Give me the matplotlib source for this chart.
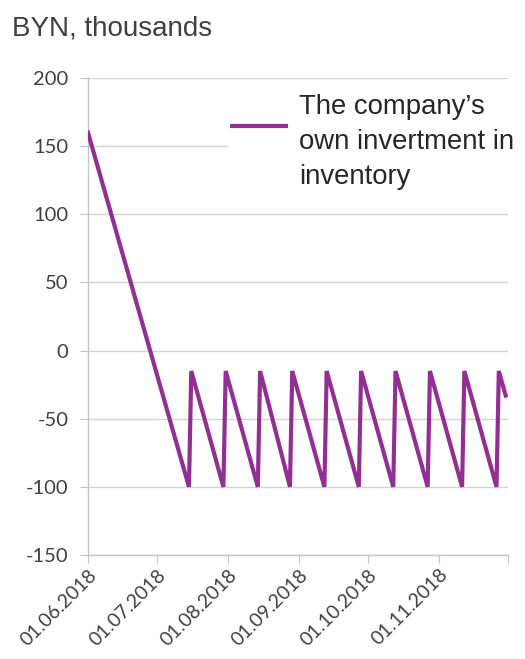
import pandas as pd
import matplotlib.pyplot as plt

# inventory balance: opening stock runs down, then fortnightly restocking
dates = ['2018-06-01', '2018-07-15', '2018-07-16', '2018-07-30', '2018-07-31',
         '2018-08-14', '2018-08-15', '2018-08-28', '2018-08-29', '2018-09-12',
         '2018-09-13', '2018-09-27', '2018-09-28', '2018-10-12', '2018-10-13',
         '2018-10-27', '2018-10-28', '2018-11-11', '2018-11-12', '2018-11-26',
         '2018-11-27', '2018-11-30']
values = [160, -100, -15, -100, -15,
          -100, -15, -100, -15, -100,
          -15, -100, -15, -100, -15,
          -100, -15, -100, -15, -100,
          -15, -33]

tick_dates = ['2018-06-01', '2018-07-01', '2018-08-01', '2018-09-01',
              '2018-10-01', '2018-11-01', '2018-12-01']
tick_labels = ['01.06.2018', '01.07.2018', '01.08.2018', '01.09.2018',
               '01.10.2018', '01.11.2018', '']
y_ticks = [-150, -100, -50, 0, 50, 100, 150, 200]

series_name = "The company\u2019s\nown invertment in\ninventory"

x = pd.to_datetime(dates)
xt = pd.to_datetime(tick_dates)

fig = plt.figure(figsize=(5.25, 6.59), dpi=100)
ax = fig.add_axes([0.1676, 0.1578, 0.8, 0.7238])

line_color = '#922f92'
ax.plot(x, values, color=line_color, lw=3.0, solid_joinstyle='miter', zorder=3)

ax.set_ylim(-150, 200)
ax.set_xlim(xt[0], xt[-1])
ax.set_yticks(y_ticks)
ax.set_yticklabels([str(v) for v in y_ticks], fontsize=14.5, family='Lato', color='#404040')
ax.set_xticks(xt)
ax.set_xticklabels(tick_labels, rotation=45, ha='right', rotation_mode='anchor',
                   fontsize=14, family='Lato', color='#404040')

ax.grid(axis='y', color='#d4d4d4', lw=1.0, zorder=0)
for side in ['top', 'right']:
    ax.spines[side].set_visible(False)
for side in ['left', 'bottom']:
    ax.spines[side].set_color('#c4c4c4')
    ax.spines[side].set_linewidth(1.0)
ax.tick_params(axis='y', length=6, color='#c4c4c4', pad=8)
ax.tick_params(axis='x', length=6, color='#c4c4c4', pad=2)

# legend sits over the upper right part of the plot
leg = ax.legend([series_name], loc='upper left', bbox_to_anchor=(0.333, 0.975),
                borderaxespad=0, frameon=True, fancybox=False, edgecolor='white',
                framealpha=1, handlelength=1.95, handletextpad=0.5, borderpad=0.15,
                prop={'family': 'Liberation Sans', 'size': 19.8})
for t in leg.get_texts():
    t.set_color('#262626')
    t.set_linespacing(1.45)
# lift the swatch up to sit between the first two lines of text
handle = leg.get_lines()[0]
handle.set_ydata(handle.get_ydata() + 12)

fig.text(0.023, 0.957, 'BYN, thousands', fontsize=20, family='Liberation Sans',
         color='#404040', va='center')

fig.savefig('out.png', dpi=100)
